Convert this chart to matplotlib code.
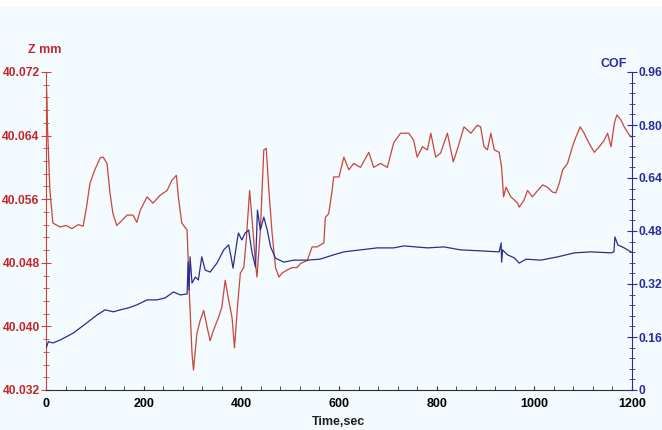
import matplotlib
matplotlib.use("Agg")
import matplotlib.pyplot as plt
from matplotlib.patches import Rectangle
from matplotlib.ticker import MultipleLocator, FormatStrFormatter

# Z (mm) trace
t_z = [0, 2, 3, 8, 14, 29, 41, 53, 66, 76, 83, 90, 100, 111, 117, 125, 131, 137, 145, 155,
       166, 178, 186, 193, 207, 219, 234, 248, 258, 267, 271, 278, 289, 293, 299, 302, 309, 316,
       323, 330, 336, 343, 353, 360, 367, 374, 381, 386, 392, 398, 405, 410, 417, 422, 429, 432,
       439, 446, 451, 456, 463, 470, 477, 483, 494, 504, 514, 521, 535, 545, 555, 569, 572, 579,
       586, 589, 600, 610, 620, 630, 644, 661, 671, 685, 699, 712, 726, 743, 753, 760, 771, 781,
       788, 798, 808, 822, 834, 842, 856, 870, 883, 890, 897, 904, 911, 918, 928, 933, 937, 942,
       952, 966, 969, 979, 986, 996, 1007, 1017, 1027, 1037, 1044, 1051, 1058, 1068, 1078, 1085,
       1094, 1102, 1109, 1116, 1123, 1133, 1143, 1150, 1157, 1164, 1169, 1177, 1184, 1194, 1200]
z_mm = [40.0718, 40.0685, 40.0651, 40.0571, 40.0530, 40.0525, 40.0527, 40.0523, 40.0528, 40.0526,
        40.0550, 40.0580, 40.0597, 40.0612, 40.0613, 40.0605, 40.0568, 40.0542, 40.0527, 40.0533,
        40.0540, 40.0540, 40.0531, 40.0546, 40.0563, 40.0555, 40.0565, 40.0571, 40.0584, 40.0590,
        40.0563, 40.0530, 40.0521, 40.0449, 40.0366, 40.0345, 40.0391, 40.0408, 40.0420, 40.0399,
        40.0382, 40.0395, 40.0411, 40.0424, 40.0458, 40.0433, 40.0411, 40.0373, 40.0424, 40.0467,
        40.0474, 40.0508, 40.0571, 40.0534, 40.0479, 40.0462, 40.0521, 40.0622, 40.0624, 40.0575,
        40.0517, 40.0474, 40.0462, 40.0467, 40.0471, 40.0474, 40.0474, 40.0479, 40.0483, 40.0500,
        40.0500, 40.0505, 40.0537, 40.0542, 40.0571, 40.0588, 40.0588, 40.0613, 40.0597, 40.0605,
        40.0600, 40.0619, 40.0600, 40.0605, 40.0600, 40.0631, 40.0643, 40.0643, 40.0634, 40.0613,
        40.0626, 40.0622, 40.0643, 40.0613, 40.0618, 40.0643, 40.0607, 40.0622, 40.0651, 40.0643,
        40.0653, 40.0651, 40.0626, 40.0622, 40.0643, 40.0622, 40.0619, 40.0600, 40.0563, 40.0575,
        40.0563, 40.0555, 40.0550, 40.0559, 40.0571, 40.0563, 40.0571, 40.0578, 40.0575, 40.0569,
        40.0568, 40.0580, 40.0597, 40.0605, 40.0626, 40.0638, 40.0651, 40.0643, 40.0634, 40.0626,
        40.0619, 40.0626, 40.0634, 40.0643, 40.0626, 40.0656, 40.0666, 40.0660, 40.0651, 40.0641,
        40.0638]

# coefficient of friction trace
t_cof = [1, 5, 14, 29, 56, 83, 104, 121, 138, 152, 169, 186, 207, 227, 244, 261, 275, 289, 291,
         293, 295, 299, 306, 312, 319, 326, 336, 350, 364, 374, 379, 383, 391, 394, 401, 408, 415,
         422, 429, 433, 439, 446, 453, 460, 470, 487, 507, 535, 561, 589, 610, 644, 678, 712, 733,
         781, 815, 849, 890, 928, 932, 933, 935, 945, 959, 969, 983, 1013, 1048, 1082, 1116, 1157,
         1163, 1165, 1171, 1184, 1198]
cof = [0.130, 0.146, 0.142, 0.151, 0.172, 0.202, 0.226, 0.242, 0.236, 0.242, 0.248, 0.257, 0.272,
       0.272, 0.278, 0.296, 0.287, 0.290, 0.386, 0.302, 0.402, 0.323, 0.341, 0.332, 0.402, 0.362,
       0.356, 0.383, 0.423, 0.438, 0.402, 0.368, 0.447, 0.474, 0.453, 0.474, 0.483, 0.414, 0.371,
       0.543, 0.483, 0.522, 0.483, 0.432, 0.398, 0.386, 0.392, 0.392, 0.395, 0.408, 0.417, 0.423,
       0.429, 0.429, 0.435, 0.429, 0.432, 0.423, 0.420, 0.417, 0.444, 0.386, 0.423, 0.408, 0.399,
       0.383, 0.395, 0.392, 0.402, 0.414, 0.417, 0.414, 0.417, 0.462, 0.438, 0.429, 0.417]

cof_ticks = [0, 0.16, 0.32, 0.48, 0.64, 0.80, 0.96]
cof_labels = ["0", "0.16", "0.32", "0.48", "0.64", "0.80", "0.96"]

RED = "#c8463c"
RED_TXT = "#c0282a"
BLUE = "#2c2c8c"
BLUE_TXT = "#2a2aa0"
BG = "#f3fbfe"

plt.rcParams["font.family"] = ["Liberation Sans", "DejaVu Sans"]
plt.rcParams["font.weight"] = "bold"

fig = plt.figure(figsize=(6.62, 4.30), dpi=100, facecolor=BG)
# white strip along the top edge, as in the screenshot
fig.patches.append(Rectangle((0, 1 - 7 / 430), 1, 7 / 430, transform=fig.transFigure,
                             facecolor="white", edgecolor="none", zorder=0))

ax1 = fig.add_axes([46 / 662, 1 - 390 / 430, 586 / 662, 318 / 430])
ax1.set_facecolor(BG)
ax2 = ax1.twinx()

ax1.plot(t_z, z_mm, color=RED, linewidth=0.9)
ax2.plot(t_cof, cof, color=BLUE, linewidth=0.9)

ax1.set_xlim(0, 1200)
ax1.set_ylim(40.032, 40.072)
ax2.set_ylim(0, 0.96)

ax1.xaxis.set_major_locator(MultipleLocator(200))
ax1.xaxis.set_minor_locator(MultipleLocator(40))
ax1.yaxis.set_major_locator(MultipleLocator(0.008))
ax1.yaxis.set_minor_locator(MultipleLocator(0.0016))
ax1.yaxis.set_major_formatter(FormatStrFormatter("%.3f"))
ax2.yaxis.set_minor_locator(MultipleLocator(0.032))
ax2.set_yticks(cof_ticks)
ax2.set_yticklabels(cof_labels)

for ax in (ax1, ax2):
    ax.spines["top"].set_visible(False)
ax1.spines["right"].set_visible(False)
ax2.spines["left"].set_visible(False)
ax2.spines["bottom"].set_visible(False)
ax1.spines["left"].set_color(RED)
ax2.spines["right"].set_color(BLUE)
ax1.spines["bottom"].set_color("#303030")

ax1.tick_params(axis="y", which="major", direction="inout", length=7, color=RED,
                labelcolor=RED_TXT, labelsize=8.7, pad=1)
ax1.tick_params(axis="y", which="minor", direction="inout", length=4, color=RED)
ax2.tick_params(axis="y", which="major", direction="inout", length=7, color=BLUE,
                labelcolor=BLUE_TXT, labelsize=8.7, pad=1)
ax2.tick_params(axis="y", which="minor", direction="inout", length=4, color=BLUE)
ax1.tick_params(axis="x", which="both", direction="in", length=3, color="#303030",
                labelsize=9, pad=6)

for lab in ax1.get_yticklabels() + ax2.get_yticklabels() + ax1.get_xticklabels():
    lab.set_fontweight("bold")

fig.text(28 / 662, 1 - 50 / 430, "Z mm", color=RED_TXT, fontsize=9, fontweight="bold",
         ha="left", va="center")
fig.text(627 / 662, 1 - 64 / 430, "COF", color=BLUE_TXT, fontsize=9, fontweight="bold",
         ha="right", va="center")
fig.text(338 / 662, 1 - 422 / 430, "Time,sec", color="#202020", fontsize=9,
         fontweight="bold", ha="center", va="center")

fig.savefig("out.png", dpi=100, facecolor=BG)
